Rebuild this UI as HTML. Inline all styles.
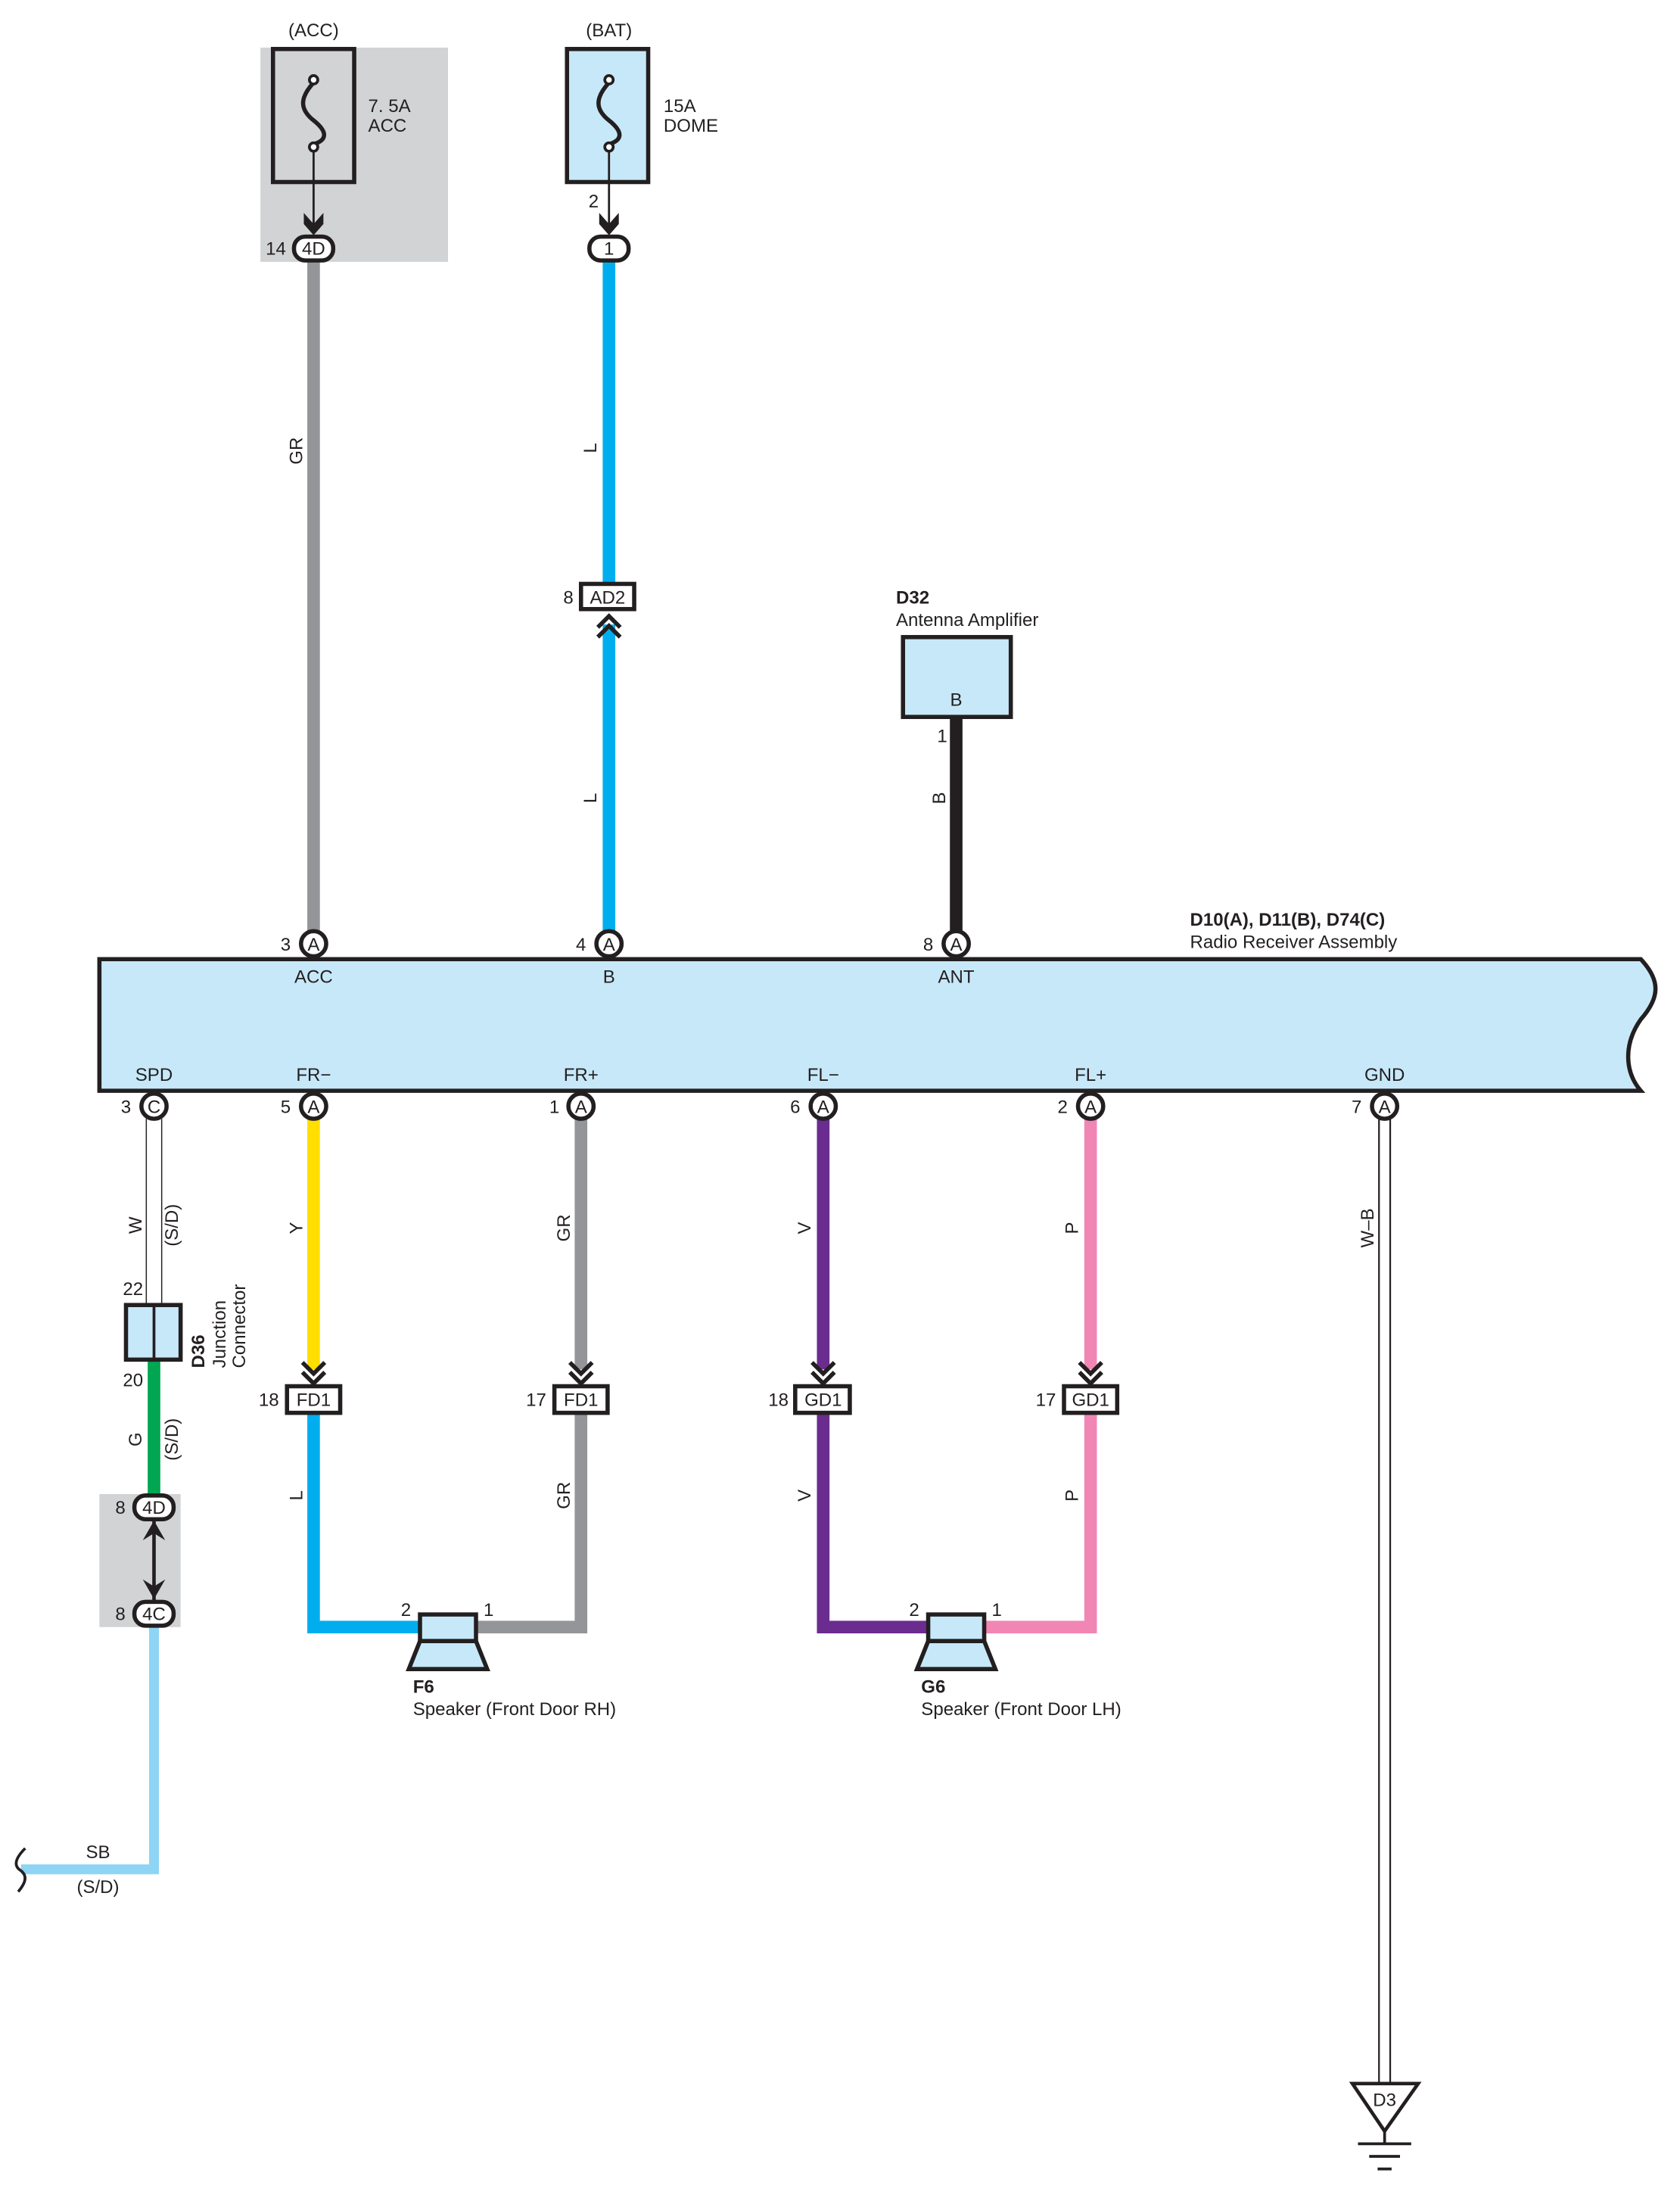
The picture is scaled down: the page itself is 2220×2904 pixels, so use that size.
<!DOCTYPE html>
<html><head><meta charset="utf-8"><style>
html,body{margin:0;padding:0;background:#fff;}
svg{display:block;}
text{font-family:"Liberation Sans",sans-serif;font-size:13px;fill:#231f20;}
.b{font-weight:bold;}
</style></head><body>
<svg width="2220" height="2904" viewBox="0 0 1200 1569.73" xmlns="http://www.w3.org/2000/svg">
<defs>
<g id="chev"><path d="M-8,-14 L0,-6 L8,-14 M-8,-7 L0,1 L8,-7" fill="none" stroke="#231f20" stroke-width="3"/></g>
</defs>
<!-- ACC fuse -->
<rect x="186" y="34" width="134" height="153" fill="#d1d3d4"/>
<text x="224" y="26" text-anchor="middle">(ACC)</text>
<rect x="195" y="35" width="58" height="95" fill="#d1d3d4" stroke="#231f20" stroke-width="3"/>
<path d="M224,59 C214,70 214,78 224,86 C234,94 234,100 224,103" fill="none" stroke="#231f20" stroke-width="3"/>
<circle cx="224" cy="57" r="3" fill="#fff" stroke="#231f20" stroke-width="2"/>
<circle cx="224" cy="105" r="3" fill="#fff" stroke="#231f20" stroke-width="2"/>
<line x1="224" y1="108" x2="224" y2="165" stroke="#231f20" stroke-width="1.5"/>
<path d="M217,152 L224,160 L231,152 L231,160 L224,168 L217,160Z" fill="#231f20"/>
<text x="263" y="80">7. 5A</text><text x="263" y="94">ACC</text>
<!-- BAT fuse -->
<text x="435" y="26" text-anchor="middle">(BAT)</text>
<rect x="405" y="35" width="58" height="95" fill="#c7e8f9" stroke="#231f20" stroke-width="3"/>
<path d="M435,59 C425,70 425,78 435,86 C445,94 445,100 435,103" fill="none" stroke="#231f20" stroke-width="3"/>
<circle cx="435" cy="57" r="3" fill="#fff" stroke="#231f20" stroke-width="2"/>
<circle cx="435" cy="105" r="3" fill="#fff" stroke="#231f20" stroke-width="2"/>
<line x1="435" y1="108" x2="435" y2="165" stroke="#231f20" stroke-width="1.5"/>
<path d="M428,152 L435,160 L442,152 L442,160 L435,168 L428,160Z" fill="#231f20"/>
<text x="474" y="80">15A</text><text x="474" y="94">DOME</text>
<text x="424" y="148" text-anchor="middle">2</text>
<!-- Wires top -->
<line x1="224" y1="185" x2="224" y2="666" stroke="#939598" stroke-width="9"/>
<line x1="435" y1="185" x2="435" y2="418" stroke="#00aeef" stroke-width="9"/>
<line x1="435" y1="446" x2="435" y2="666" stroke="#00aeef" stroke-width="9"/>
<line x1="683" y1="512" x2="683" y2="666" stroke="#231f20" stroke-width="9"/>
<text transform="translate(216,322) rotate(-90)" text-anchor="middle">GR</text>
<text transform="translate(426,320) rotate(-90)" text-anchor="middle">L</text>
<text transform="translate(426,570) rotate(-90)" text-anchor="middle">L</text>
<text transform="translate(675,570) rotate(-90)" text-anchor="middle">B</text>
<!-- top connectors -->
<rect x="210" y="169" width="28" height="17" rx="8" fill="#fff" stroke="#231f20" stroke-width="3"/>
<text x="224" y="182" text-anchor="middle">4D</text><text x="197" y="182" text-anchor="middle">14</text>
<rect x="421" y="169" width="28" height="17" rx="8" fill="#fff" stroke="#231f20" stroke-width="3"/>
<text x="435" y="182" text-anchor="middle">1</text>
<rect x="415" y="417" width="38" height="18" fill="#fff" stroke="#231f20" stroke-width="3"/>
<text x="434" y="431" text-anchor="middle">AD2</text><text x="406" y="431" text-anchor="middle">8</text>
<path d="M427,448 L435,440 L443,448 M427,455 L435,447 L443,455" fill="none" stroke="#231f20" stroke-width="3"/>
<!-- D32 -->
<text x="640" y="431" class="b">D32</text>
<text x="640" y="447">Antenna Amplifier</text>
<rect x="645" y="455" width="77" height="57" fill="#c7e8f9" stroke="#231f20" stroke-width="3"/>
<text x="683" y="504" text-anchor="middle">B</text>
<text x="673" y="530" text-anchor="middle">1</text>
<!-- Radio -->
<text x="850" y="661" class="b">D10(A), D11(B), D74(C)</text>
<text x="850" y="677">Radio Receiver Assembly</text>
<path d="M71,685 L1172,685 C1186,700 1186,712 1172,728 C1160,745 1160,765 1172,779 L71,779 Z" fill="#c7e8f9" stroke="#231f20" stroke-width="3"/>
<g text-anchor="middle">
<text x="224" y="702">ACC</text><text x="435" y="702">B</text><text x="683" y="702">ANT</text>
<text x="110" y="772">SPD</text><text x="224" y="772">FR−</text><text x="415" y="772">FR+</text>
<text x="588" y="772">FL−</text><text x="779" y="772">FL+</text><text x="989" y="772">GND</text>
</g>
<!-- bottom wires -->
<line x1="104.5" y1="799" x2="104.5" y2="932" stroke="#231f20" stroke-width="0.8"/>
<line x1="115.5" y1="799" x2="115.5" y2="932" stroke="#231f20" stroke-width="0.8"/>
<line x1="110" y1="971" x2="110" y2="1068" stroke="#00a651" stroke-width="9"/>
<path d="M110,1162 L110,1335 L15,1335" fill="none" stroke="#8dd4f5" stroke-width="7"/>
<path d="M18,1320 C10,1328 10,1333 15,1336 C20,1340 18,1345 13,1351" fill="none" stroke="#231f20" stroke-width="2"/>
<line x1="224" y1="799" x2="224" y2="978" stroke="#ffde00" stroke-width="9"/>
<line x1="415" y1="799" x2="415" y2="978" stroke="#939598" stroke-width="9"/>
<line x1="588" y1="799" x2="588" y2="978" stroke="#6b2c8f" stroke-width="9"/>
<line x1="779" y1="799" x2="779" y2="978" stroke="#f186b4" stroke-width="9"/>
<path d="M224,1009 L224,1162 L300,1162" fill="none" stroke="#00aeef" stroke-width="9"/>
<path d="M415,1009 L415,1162 L340,1162" fill="none" stroke="#939598" stroke-width="9"/>
<path d="M588,1009 L588,1162 L663,1162" fill="none" stroke="#6b2c8f" stroke-width="9"/>
<path d="M779,1009 L779,1162 L703,1162" fill="none" stroke="#f186b4" stroke-width="9"/>
<line x1="985" y1="799" x2="985" y2="1490" stroke="#231f20" stroke-width="1.2"/>
<line x1="993" y1="799" x2="993" y2="1490" stroke="#231f20" stroke-width="1.2"/>
<!-- wire labels -->
<text transform="translate(101,875) rotate(-90)" text-anchor="middle">W</text>
<text transform="translate(127,875) rotate(-90)" text-anchor="middle">(S/D)</text>
<text transform="translate(101,1028) rotate(-90)" text-anchor="middle">G</text>
<text transform="translate(127,1028) rotate(-90)" text-anchor="middle">(S/D)</text>
<text transform="translate(216,877) rotate(-90)" text-anchor="middle">Y</text>
<text transform="translate(407,877) rotate(-90)" text-anchor="middle">GR</text>
<text transform="translate(579,877) rotate(-90)" text-anchor="middle">V</text>
<text transform="translate(770,877) rotate(-90)" text-anchor="middle">P</text>
<text transform="translate(216,1068) rotate(-90)" text-anchor="middle">L</text>
<text transform="translate(407,1068) rotate(-90)" text-anchor="middle">GR</text>
<text transform="translate(579,1068) rotate(-90)" text-anchor="middle">V</text>
<text transform="translate(770,1068) rotate(-90)" text-anchor="middle">P</text>
<text transform="translate(981,877) rotate(-90)" text-anchor="middle">W–B</text>
<!-- circle connectors -->
<g fill="#fff" stroke="#231f20" stroke-width="3">
<circle cx="224" cy="674" r="9"/><circle cx="435" cy="674" r="9"/><circle cx="683" cy="674" r="9"/>
<circle cx="110" cy="790" r="9"/><circle cx="224" cy="790" r="9"/><circle cx="415" cy="790" r="9"/>
<circle cx="588" cy="790" r="9"/><circle cx="779" cy="790" r="9"/><circle cx="989" cy="790" r="9"/>
</g>
<g text-anchor="middle">
<text x="224" y="679">A</text><text x="435" y="679">A</text><text x="683" y="679">A</text>
<text x="204" y="679">3</text><text x="415" y="679">4</text><text x="663" y="679">8</text>
<text x="110" y="795">C</text><text x="224" y="795">A</text><text x="415" y="795">A</text>
<text x="588" y="795">A</text><text x="779" y="795">A</text><text x="989" y="795">A</text>
<text x="90" y="795">3</text><text x="204" y="795">5</text><text x="396" y="795">1</text>
<text x="568" y="795">6</text><text x="759" y="795">2</text><text x="969" y="795">7</text>
</g>
<!-- chevrons and boxes -->
<use href="#chev" x="224" y="987"/><use href="#chev" x="415" y="987"/>
<use href="#chev" x="588" y="987"/><use href="#chev" x="779" y="987"/>
<g fill="#fff" stroke="#231f20" stroke-width="3">
<rect x="205" y="990" width="38" height="19"/><rect x="396" y="990" width="38" height="19"/>
<rect x="568" y="990" width="39" height="19"/><rect x="760" y="990" width="38" height="19"/>
</g>
<g text-anchor="middle">
<text x="224" y="1004">FD1</text><text x="415" y="1004">FD1</text>
<text x="588" y="1004">GD1</text><text x="779" y="1004">GD1</text>
<text x="192" y="1004">18</text><text x="383" y="1004">17</text>
<text x="556" y="1004">18</text><text x="747" y="1004">17</text>
</g>
<!-- junction D36 -->
<text x="95" y="925" text-anchor="middle">22</text>
<rect x="90" y="932" width="39" height="39" fill="#c7e8f9" stroke="#231f20" stroke-width="3"/>
<line x1="110" y1="932" x2="110" y2="971" stroke="#231f20" stroke-width="2"/>
<text x="95" y="990" text-anchor="middle">20</text>
<text transform="translate(146,977) rotate(-90)" class="b">D36</text>
<text transform="translate(161,977) rotate(-90)">Junction</text>
<text transform="translate(175,977) rotate(-90)">Connector</text>
<!-- 4D/4C -->
<rect x="71" y="1067" width="58" height="95" fill="#d1d3d4"/>
<line x1="110" y1="1085" x2="110" y2="1143" stroke="#231f20" stroke-width="2.5"/>
<path d="M102,1100 L110,1086 L118,1100 L110,1095Z M102,1128 L110,1142 L118,1128 L110,1133Z" fill="#231f20"/>
<rect x="96" y="1068" width="28" height="17" rx="8" fill="#fff" stroke="#231f20" stroke-width="3"/>
<rect x="96" y="1144" width="28" height="17" rx="8" fill="#fff" stroke="#231f20" stroke-width="3"/>
<text x="110" y="1081" text-anchor="middle">4D</text><text x="110" y="1157" text-anchor="middle">4C</text>
<text x="86" y="1081" text-anchor="middle">8</text><text x="86" y="1157" text-anchor="middle">8</text>
<text x="70" y="1327" text-anchor="middle">SB</text>
<text x="70" y="1352" text-anchor="middle">(S/D)</text>
<!-- speakers -->
<g fill="#c7e8f9" stroke="#231f20" stroke-width="3">
<rect x="300" y="1153" width="40" height="19"/><path d="M300,1172 L340,1172 L348,1192 L292,1192Z"/>
<rect x="663" y="1153" width="40" height="19"/><path d="M663,1172 L703,1172 L711,1192 L655,1192Z"/>
</g>
<text x="290" y="1154" text-anchor="middle">2</text><text x="349" y="1154" text-anchor="middle">1</text>
<text x="653" y="1154" text-anchor="middle">2</text><text x="712" y="1154" text-anchor="middle">1</text>
<text x="295" y="1209" class="b">F6</text><text x="295" y="1225">Speaker (Front Door RH)</text>
<text x="658" y="1209" class="b">G6</text><text x="658" y="1225">Speaker (Front Door LH)</text>
<!-- ground -->
<path d="M966,1488 L1013,1488 L989,1522Z" fill="#fff" stroke="#231f20" stroke-width="2.5"/>
<text x="989" y="1504" text-anchor="middle">D3</text>
<line x1="989" y1="1522" x2="989" y2="1530" stroke="#231f20" stroke-width="2"/>
<line x1="970" y1="1531" x2="1008" y2="1531" stroke="#231f20" stroke-width="2"/>
<line x1="978" y1="1540" x2="1000" y2="1540" stroke="#231f20" stroke-width="2"/>
<line x1="984" y1="1549" x2="994" y2="1549" stroke="#231f20" stroke-width="2"/>
</svg>
</body></html>
